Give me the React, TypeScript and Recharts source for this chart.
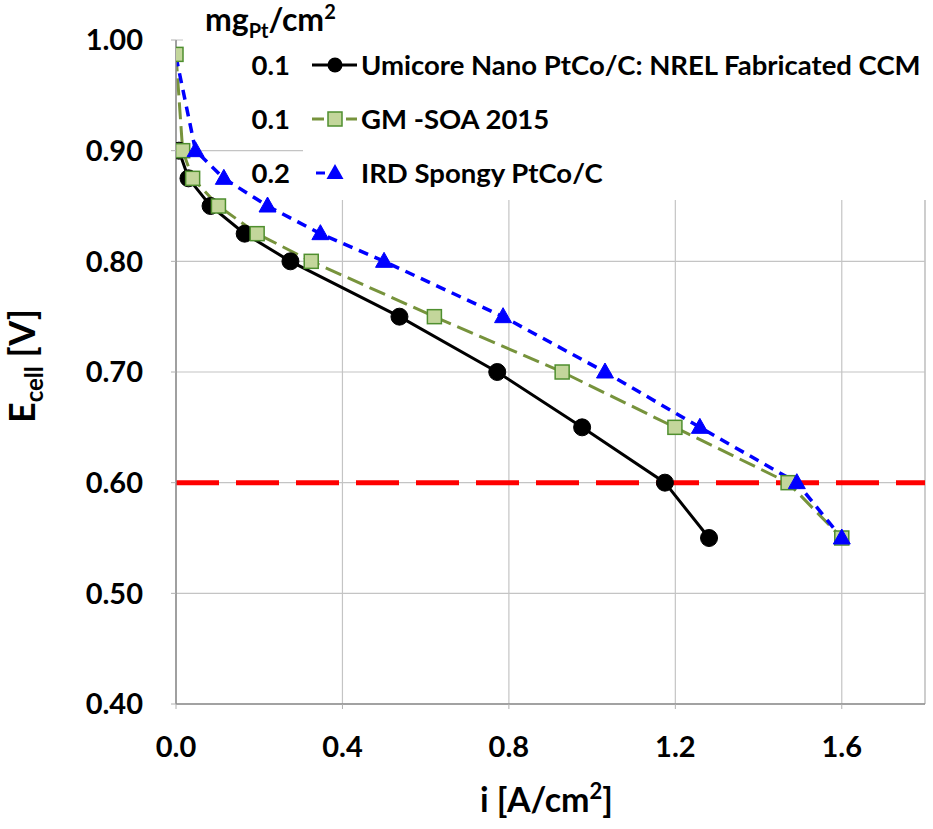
import React from "react";
import {
  LineChart,
  Line,
  XAxis,
  YAxis,
  CartesianGrid,
  ReferenceLine,
  Label,
} from "recharts";

// current density i [A/cm2] and cell voltage E [V]
const umicoreCurrent = [0.007, 0.03, 0.083, 0.165, 0.275, 0.537, 0.772, 0.976, 1.175, 1.281];
const umicoreVoltage = [0.9, 0.875, 0.85, 0.825, 0.8, 0.75, 0.7, 0.65, 0.6, 0.55];

const gmCurrent = [0.0, 0.016, 0.04, 0.102, 0.195, 0.325, 0.621, 0.928, 1.199, 1.471, 1.6];
const gmVoltage = [0.987, 0.9, 0.875, 0.85, 0.825, 0.8, 0.75, 0.7, 0.65, 0.6, 0.55];

const irdCurrent = [0.0, 0.047, 0.115, 0.22, 0.347, 0.5, 0.786, 1.031, 1.259, 1.492, 1.6];
const irdVoltage = [0.985, 0.9, 0.875, 0.85, 0.825, 0.8, 0.75, 0.7, 0.65, 0.6, 0.55];

const xTicks = [0, 0.4, 0.8, 1.2, 1.6];
const yTicks = [0.4, 0.5, 0.6, 0.7, 0.8, 0.9, 1.0];

const legendItems = [
  { loading: "0.1", name: "Umicore Nano PtCo/C: NREL Fabricated CCM" },
  { loading: "0.1", name: "GM -SOA 2015" },
  { loading: "0.2", name: "IRD Spongy PtCo/C" },
];

const toPoints = (xs: number[], ys: number[]) =>
  xs.map((i, k) => ({ i, e: ys[k] }));

const umicoreData = toPoints(umicoreCurrent, umicoreVoltage);
const gmData = toPoints(gmCurrent, gmVoltage);
const irdData = toPoints(irdCurrent, irdVoltage);

const FONT = "Lato, 'Open Sans', sans-serif";
const tickStyle = { fontSize: 29, fontWeight: 700, fill: "#000", fontFamily: FONT };

const SquareDot = (props: any) => {
  const { cx, cy } = props;
  if (cx == null || cy == null) return null;
  return (
    <rect x={cx - 7} y={cy - 7} width={14} height={14} fill="#c3d69b" stroke="#4f8f2f" strokeWidth={1.5} />
  );
};

const TriangleDot = (props: any) => {
  const { cx, cy, index } = props;
  if (cx == null || cy == null || index === 0) return <g />;
  return (
    <polygon
      points={`${cx},${cy - 9} ${cx - 8.5},${cy + 6} ${cx + 8.5},${cy + 6}`}
      fill="#0000ff"
      stroke="#0000ff"
      strokeWidth={1}
    />
  );
};

const YTitle = (props: any) => {
  const { viewBox } = props;
  const x = viewBox.x + 35;
  const y = viewBox.y + viewBox.height / 2 - 6;
  return (
    <text
      x={x}
      y={y}
      transform={`rotate(-90, ${x}, ${y})`}
      textAnchor="middle"
      fontFamily={FONT}
      fontWeight={700}
      fontSize={36}
      fill="#000"
    >
      E
      <tspan fontSize={24} dy={8}>cell</tspan>
      <tspan dy={-8}> [V]</tspan>
    </text>
  );
};

const XTitle = (props: any) => {
  const { viewBox } = props;
  const x = viewBox.x + viewBox.width / 2 - 4;
  const y = viewBox.y + 108;
  return (
    <text x={x} y={y} textAnchor="middle" fontFamily={FONT} fontWeight={700} fontSize={34} fill="#000">
      i [A/cm
      <tspan fontSize={22} dy={-13}>2</tspan>
      <tspan dy={13}>]</tspan>
    </text>
  );
};

function LegendOverlay() {
  const rowY = [65, 119, 173];
  return (
    <svg
      width={933}
      height={210}
      style={{ position: "absolute", left: 0, top: 0, pointerEvents: "none" }}
    >
      <rect x={183} y={0} width={130} height={46} fill="#fff" />
      <rect x={303} y={0} width={626} height={200} fill="#fff" />
      <text x={205} y={31} fontFamily={FONT} fontWeight={700} fontSize={32} fill="#000">
        mg
        <tspan fontSize={20} dy={7}>Pt</tspan>
        <tspan dy={-7}>/cm</tspan>
        <tspan fontSize={20} dy={-12}>2</tspan>
      </text>
      {legendItems.map((item, k) => (
        <g key={k}>
          <text
            x={290}
            y={rowY[k] + 10}
            textAnchor="end"
            fontFamily={FONT}
            fontWeight={700}
            fontSize={27.5}
            fill="#000"
          >
            {item.loading}
          </text>
          <text x={361} y={rowY[k] + 10} fontFamily={FONT} fontWeight={700} fontSize={27.5} fill="#000">
            {item.name}
          </text>
        </g>
      ))}
      {/* line samples */}
      <line x1={312} x2={357} y1={rowY[0]} y2={rowY[0]} stroke="#000" strokeWidth={3} />
      <circle cx={335} cy={rowY[0]} r={7.5} fill="#000" />
      <line x1={312} x2={357} y1={rowY[1]} y2={rowY[1]} stroke="#77933c" strokeWidth={3} strokeDasharray="12 5" />
      <rect x={328} y={rowY[1] - 7} width={14} height={14} fill="#c3d69b" stroke="#4f8f2f" strokeWidth={1.5} />
      <line x1={316} x2={335} y1={rowY[2]} y2={rowY[2]} stroke="#0000ff" strokeWidth={3} strokeDasharray="9 7" />
      <polygon
        points={`335,${rowY[2] - 9} 326.5,${rowY[2] + 6} 343.5,${rowY[2] + 6}`}
        fill="#0000ff"
      />
    </svg>
  );
}

export default function App() {
  return (
    <div style={{ position: "relative", width: 933, height: 829, background: "#fff" }}>
      <style>{`body { margin: 0; }`}</style>
      <LineChart
        width={933}
        height={829}
        margin={{ top: 40, right: 8, left: 0, bottom: 0 }}
        style={{ fontFamily: FONT }}
      >
        <CartesianGrid stroke="#c4c4c4" strokeWidth={1.2} />
        <XAxis
          dataKey="i"
          type="number"
          domain={[0, 1.8]}
          ticks={xTicks}
          tickFormatter={(v: number) => v.toFixed(1)}
          height={125}
          tick={tickStyle}
          tickSize={5}
          tickMargin={27}
          axisLine={{ stroke: "#8c8c8c", strokeWidth: 1.5 }}
          tickLine={{ stroke: "#b0b0b0" }}
          allowDataOverflow
        >
          <Label content={XTitle} />
        </XAxis>
        <YAxis
          type="number"
          domain={[0.4, 1.0]}
          ticks={yTicks}
          tickFormatter={(v: number) => v.toFixed(2)}
          width={176}
          tick={tickStyle}
          tickSize={5}
          tickMargin={28}
          axisLine={{ stroke: "#8c8c8c", strokeWidth: 1.5 }}
          tickLine={{ stroke: "#b0b0b0" }}
          allowDataOverflow
        >
          <Label content={YTitle} />
        </YAxis>
        <ReferenceLine x={1.8} stroke="#c4c4c4" strokeWidth={1.2} />

        <Line
          data={umicoreData}
          dataKey="e"
          name="Umicore Nano PtCo/C: NREL Fabricated CCM"
          stroke="#000"
          strokeWidth={3}
          dot={{ r: 8.5, fill: "#000", stroke: "#000", strokeWidth: 1 }}
          isAnimationActive={false}
        />
        <Line
          data={gmData}
          dataKey="e"
          name="GM -SOA 2015"
          stroke="#77933c"
          strokeWidth={3}
          strokeDasharray="17 7"
          dot={SquareDot}
          isAnimationActive={false}
        />
        <ReferenceLine y={0.6} stroke="#ff0000" strokeWidth={5} strokeDasharray="43 17" />
        <Line
          data={irdData}
          dataKey="e"
          name="IRD Spongy PtCo/C"
          stroke="#0000ff"
          strokeWidth={3.5}
          strokeDasharray="10 7"
          dot={TriangleDot}
          isAnimationActive={false}
        />
      </LineChart>
      <LegendOverlay />
    </div>
  );
}
